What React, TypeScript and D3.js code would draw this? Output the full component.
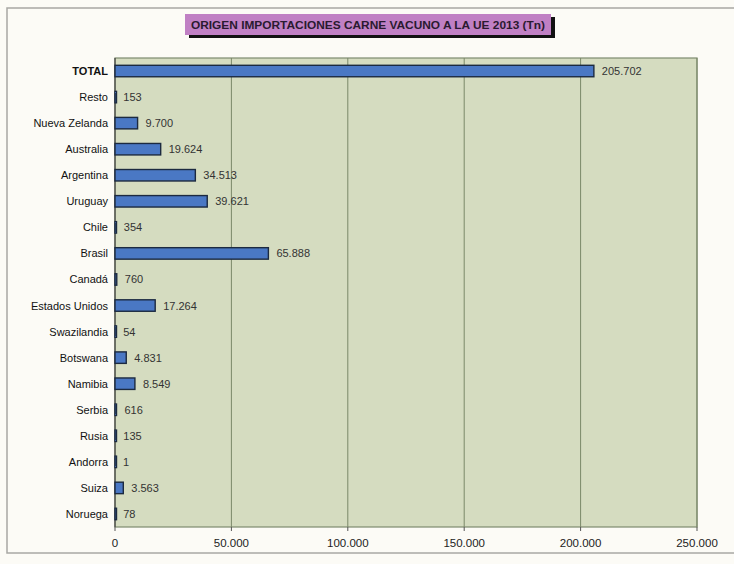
import React from "react";
import * as d3 from "d3";

const categories = ["TOTAL","Resto","Nueva Zelanda","Australia","Argentina","Uruguay","Chile","Brasil","Canadá","Estados Unidos","Swazilandia","Botswana","Namibia","Serbia","Rusia","Andorra","Suiza","Noruega"];
const values = [205702,153,9700,19624,34513,39621,354,65888,760,17264,54,4831,8549,616,135,1,3563,78];
const xTicks = [0,50000,100000,150000,200000,250000];
const title = "ORIGEN IMPORTACIONES CARNE VACUNO A LA UE 2013 (Tn)";

const W = 734, H = 564;
const m = { left: 115, right: 697, top: 58, bottom: 527 };
const fmt = (v: number) => d3.format(",")(v).replace(/,/g, ".");

export default function App() {
  const x = d3.scaleLinear().domain([0, 250000]).range([m.left, m.right]);
  const y = d3.scaleBand().domain(categories).range([m.top, m.bottom]).paddingInner(0.56).paddingOuter(0.28);
  const font = "'Liberation Sans', Arial, sans-serif";
  return (
    <svg width={W} height={H} style={{ position: "absolute", left: 0, top: 0, background: "#fcfbf6" }} fontFamily={font}>
      <rect x={0} y={0} width={W} height={H} fill="#fcfbf6" />
      <rect x={7} y={8} width={740} height={545} fill="none" stroke="#a8a8a4" strokeWidth={1.5} />
      <rect x={m.left} y={m.top} width={m.right - m.left} height={m.bottom - m.top} fill="#d5dcc0" stroke="#7d8a6e" strokeWidth={1.2} />
      {xTicks.map(t => (
        <g key={t}>
          {t > 0 && <line x1={x(t)} x2={x(t)} y1={m.top} y2={m.bottom} stroke="#7a8868" strokeWidth={1} />}
          <line x1={x(t)} x2={x(t)} y1={m.bottom} y2={m.bottom + 4} stroke="#555" />
          <text x={x(t)} y={m.bottom + 20} textAnchor="middle" fontSize={11.5} fill="#222">{fmt(t)}</text>
        </g>
      ))}
      <line x1={m.left} x2={m.left} y1={m.top} y2={m.bottom} stroke="#444" strokeWidth={1.2} />
      {categories.map((c, i) => {
        const yc = (y(c) as number);
        const bw = y.bandwidth();
        const xe = x(values[i]);
        return (
          <g key={c}>
            <rect x={m.left} y={yc} width={Math.max(xe - m.left, 1.5)} height={bw} fill="#4a78c4" stroke="#1c2a40" strokeWidth={1.4} />
            <text x={m.left - 7} y={yc + bw / 2 + 4} textAnchor="end" fontSize={11} fill="#111" fontWeight={c === "TOTAL" ? "bold" : "normal"}>{c}</text>
            <text x={xe + 8} y={yc + bw / 2 + 4} fontSize={11} fill="#333">{fmt(values[i])}</text>
          </g>
        );
      })}
      <rect x={189} y={17} width={366} height={21} fill="#111" />
      <rect x={185} y={14} width={366} height={21} fill="#c080c4" />
      <text x={191} y={29} textLength={354} lengthAdjust="spacingAndGlyphs" fontSize={11} fontWeight="bold" fill="#2a1a30">{title}</text>
    </svg>
  );
}
